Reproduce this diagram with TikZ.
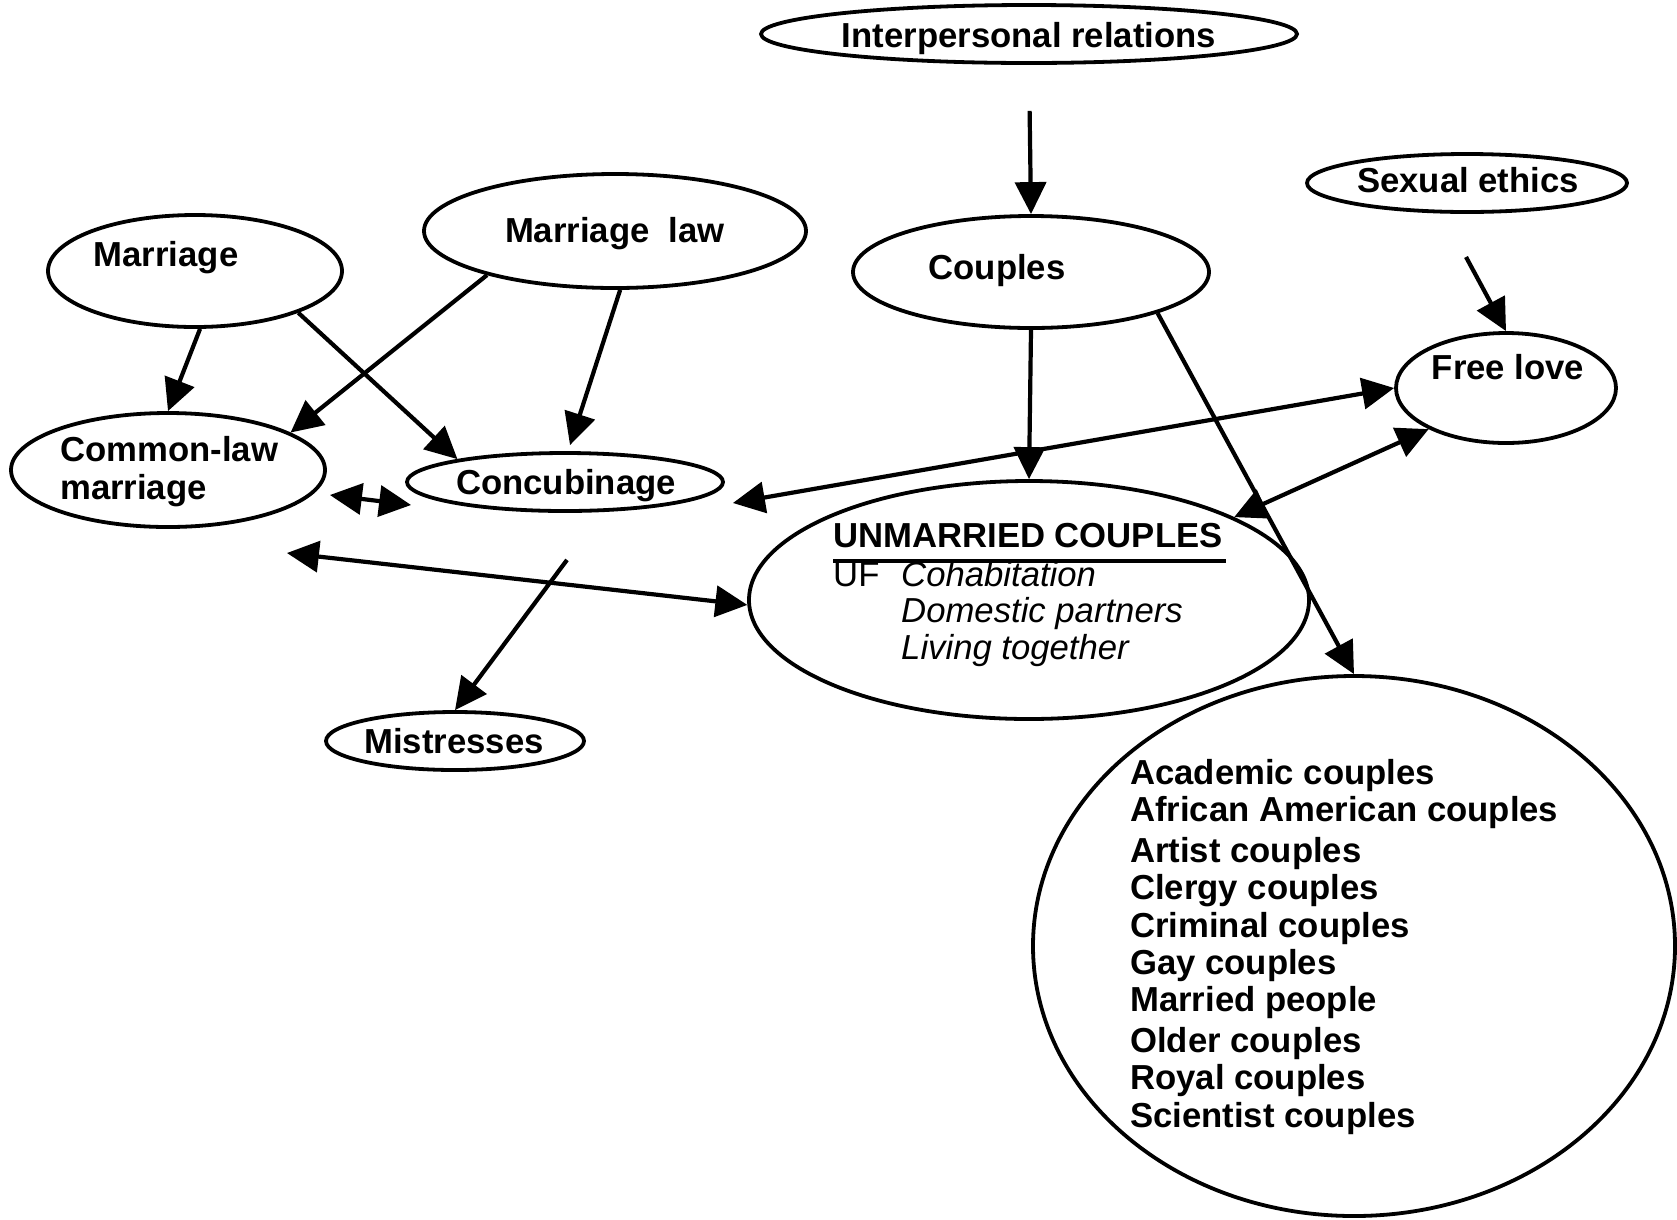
\documentclass[tikz,border=0pt]{standalone}
\usepackage{fontspec}
\setmainfont{Liberation Sans}
\usetikzlibrary{shapes.geometric,arrows.meta,calc}
\newcommand\mybigfont{\fontsize{34.7}{40.7}\selectfont}
\tikzset{
  oval/.style={draw, ellipse, line width=3.8pt, inner sep=0pt},
  lbl/.style={font=\mybigfont\bfseries, inner sep=0pt},
  lblit/.style={font=\mybigfont\itshape, inner sep=0pt},
  lblrm/.style={font=\mybigfont, inner sep=0pt},
  tipT/.tip={Triangle[length=32pt,width=31pt]},
  arr/.style={line width=4.2pt, -tipT},
  darr/.style={line width=4.2pt, tipT-tipT},
  uline/.style={line width=3.5pt}
}
\begin{document}
\begin{tikzpicture}[x=1pt,y=-1pt]
\useasboundingbox[fill=white] (0,0) rectangle (1677,1219);

% ellipses
\node[oval, minimum width=536pt, minimum height=58pt] (ip) at (1029,34) {};
\node[lbl, anchor=base] (ip-t) at (1029,47) {Interpersonal relations};
\node[oval, minimum width=320pt, minimum height=58pt] (se) at (1467,183) {};
\node[lbl, anchor=base] (se-t) at (1468,192) {Sexual ethics};
\node[oval, minimum width=382pt, minimum height=114pt] (ml) at (615,231) {};
\node[lbl, anchor=base] (ml-t) at (615,242) {Marriage\ \ law};
\node[oval, minimum width=294pt, minimum height=112pt] (m) at (195,271) {};
\node[lbl, anchor=base] (m-t) at (166,266) {Marriage};
\node[oval, minimum width=356pt, minimum height=112pt] (cp) at (1031,272) {};
\node[lbl, anchor=base] (cp-t) at (997,279) {Couples};
\node[oval, minimum width=220pt, minimum height=110pt] (fl) at (1506,388) {};
\node[lbl, anchor=base] (fl-t) at (1508,379) {Free love};
\node[oval, minimum width=314pt, minimum height=114pt] (cl) at (168,470) {};
\node[lbl, anchor=base west] (cl-t1) at (60,461) {Common-law};
\node[lbl, anchor=base west] (cl-t2) at (60,499) {marriage};
\node[oval, minimum width=316pt, minimum height=58pt] (cc) at (565,482) {};
\node[lbl, anchor=base] (cc-t) at (566,494) {Concubinage};
\node[oval, minimum width=258pt, minimum height=58pt] (mi) at (455,741) {};
\node[lbl, anchor=base] (mi-t) at (454,753) {Mistresses};

% unmarried couples
\node[oval, minimum width=560pt, minimum height=238pt] (uc) at (1029,600) {};
\node[lbl, anchor=base west] (uc-t) at (833,547) {UNMARRIED COUPLES};
\draw[uline] ($(uc-t.base west)+(0,14)$) -- ($(uc-t.base east)+(3,14)$);
\node[lblrm, anchor=base west] (uc-uf) at (833,586) {UF};
\node[lblit, anchor=base west] (uc-s1) at (901,586) {Cohabitation};
\node[lblit, anchor=base west] (uc-s2) at (901,622) {Domestic partners};
\node[lblit, anchor=base west] (uc-s3) at (901,659) {Living together};

% big circle
\node[oval, minimum width=642pt, minimum height=540pt] (bc) at (1354,946) {};
\node[lbl, anchor=base west] (b1) at (1130,784) {Academic couples};
\node[lbl, anchor=base west] (b2) at (1130,821) {African American couples};
\node[lbl, anchor=base west] (b3) at (1130,862) {Artist couples};
\node[lbl, anchor=base west] (b4) at (1130,899) {Clergy couples};
\node[lbl, anchor=base west] (b5) at (1130,937) {Criminal couples};
\node[lbl, anchor=base west] (b6) at (1130,974) {Gay couples};
\node[lbl, anchor=base west] (b7) at (1130,1011) {Married people};
\node[lbl, anchor=base west] (b8) at (1130,1052) {Older couples};
\node[lbl, anchor=base west] (b9) at (1130,1089) {Royal couples};
\node[lbl, anchor=base west] (b10) at (1130,1127) {Scientist couples};

% free ends
\coordinate (se-out) at (1466,257);

% connectors
\draw[arr, shorten <=46pt] (ip.south) -- (cp.north);
\draw[arr] (se-out) -- (fl.north);
\draw[arr] (m.-85) -- (cl.north);
\draw[arr] (m.-22) -- (cc.168);
\draw[arr] (ml.199) -- (cl.17);
\draw[arr] (ml.-85) -- ($(cc.north)+(5,-6)$);
\draw[arr] (cp.south) -- (uc.north);
\draw[arr] (cp.-18) -- (bc.north);
\draw[darr] ($(cc.east)+(8,21)$) -- (fl.west);
\draw[darr] (fl.208) -- (uc.22);
\draw[darr] ($(cl.east)+(3,25)$) -- ($(cc.west)+(6,23)$);
\draw[darr] ($(cl.east)+(-40,83)$) -- (uc.181);
\draw[arr] ($(cc.south)+(2,47)$) -- (mi.north);
\end{tikzpicture}
\end{document}
